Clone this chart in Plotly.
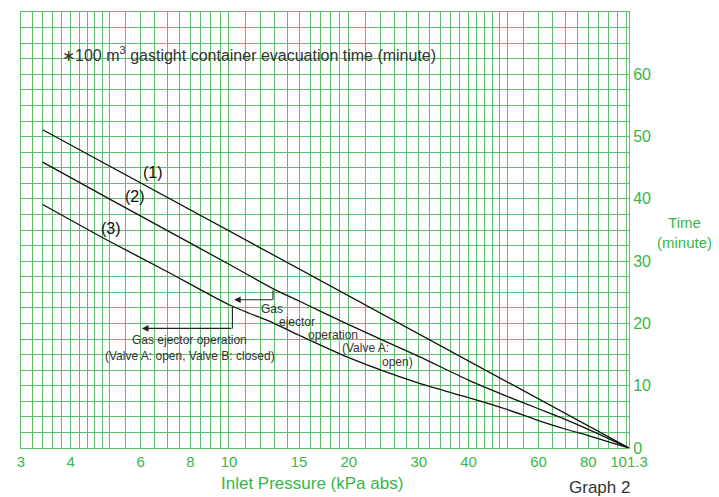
import math
import plotly.graph_objects as go

GREEN = "#39b54a"
GRID = "#5fbf6d"
TEXT = "#333333"

# ---- data ----
pressure = [3.4, 5, 7, 10, 12.9, 15, 20, 30, 40, 50, 60, 70, 80, 90, 101.3]
time_1 = [51.1, 45.3, 40.2, 34.8, 31.0, 28.7, 24.4, 18.3, 14.0, 10.6, 7.9, 5.6, 3.6, 1.8, 0.0]
time_2 = [45.9, 40.0, 34.9, 29.5, 25.6, 23.6, 19.8, 14.7, 10.9, 8.3, 6.3, 4.6, 3.0, 1.5, 0.0]
time_3 = [39.1, 33.2, 28.3, 23.0, 20.1, 18.1, 14.5, 10.4, 8.1, 6.2, 4.4, 3.05, 2.0, 1.0, 0.0]

# grid positions / tick labels
x_grid = ([3 + 0.2 * i for i in range(10)] + [5 + 0.5 * i for i in range(10)]
          + list(range(10, 20)) + list(range(20, 50, 2)) + list(range(50, 101, 5)) + [101.3])
x_labeled = {3: "3", 4: "4", 6: "6", 8: "8", 10: "10", 15: "15", 20: "20",
             30: "30", 40: "40", 60: "60", 80: "80", 101.3: "101.3"}
y_grid = [2.5 * i for i in range(29)]
y_labeled = {0: "0", 10: "10", 20: "20", 30: "30", 40: "40", 50: "50", 60: "60"}

x_text = [x_labeled.get(round(v, 1), "") for v in x_grid]
y_text = [y_labeled.get(v, "") for v in y_grid]

fig = go.Figure()
for ys, shape in ((time_1, "linear"), (time_2, "spline"), (time_3, "spline")):
    fig.add_trace(go.Scatter(x=pressure, y=ys, mode="lines",
                             line=dict(color="#111111", width=1.3, shape=shape, smoothing=0.7),
                             hoverinfo="skip", showlegend=False))

L = math.log10
FONT = "Liberation Sans, Arial, sans-serif"

ann = []
def txt(x, y, s, size, color=TEXT, xanchor="center", xref="x", yref="y", align="center"):
    xv = L(x) if xref == "x" else x
    ann.append(dict(x=xv, y=y, xref=xref, yref=yref, text=s, showarrow=False,
                    xanchor=xanchor, yanchor="middle", align=align,
                    font=dict(size=size, color=color, family=FONT)))

txt(3.77, 63.2, "∗100 m<sup>3</sup> gastight container evacuation time (minute)", 16, xanchor="left")
txt(6.45, 44.2, "(1)", 16, color="#111111")
txt(5.82, 40.3, "(2)", 16, color="#111111")
txt(5.06, 35.3, "(3)", 16, color="#111111")
txt(7.94, 17.3, "Gas ejector operation", 12)
txt(7.97, 14.7, "(Valve A: open, Valve B: closed)", 12)
txt(12.8, 22.3, "Gas", 12)
txt(14.8, 20.2, "ejector", 12)
txt(18.3, 18.1, "operation", 12)
txt(22.0, 16.1, "(Valve A:", 12)
txt(26.5, 13.8, "open)", 12)
txt(0.478, -0.081, "Inlet Pressure (kPa abs)", 17, color=GREEN, xref="paper", yref="paper")
txt(1.1395, 0.4936, "Time<br>(minute)", 15, color=GREEN, xanchor="right", xref="paper", yref="paper")
txt(0.951, -0.0908, "Graph 2", 17, xref="paper", yref="paper")

# bracket arrows
def arrow_line(xh, yh, dx_px, dy_px, head):
    ann.append(dict(x=L(xh), y=yh, xref="x", yref="y", ax=dx_px, ay=dy_px,
                    axref="pixel", ayref="pixel", showarrow=True, text="",
                    arrowhead=head, arrowsize=1.2, arrowwidth=1.1, arrowcolor="#222222",
                    standoff=0))

arrow_line(6.04, 19.2, 91, 0, 2)
arrow_line(10.2, 19.2, 0, -23, 0)
arrow_line(10.3, 23.8, 40, 0, 2)
arrow_line(12.9, 23.8, 0, -11, 0)

# page body has an 8px margin: shrink figure accordingly
fig.update_layout(
    width=711, height=489,
    margin=dict(l=13, r=90, t=4, b=49),
    paper_bgcolor="white", plot_bgcolor="white",
    font=dict(family=FONT, color=GREEN),
    annotations=ann,
    xaxis=dict(type="log", range=[L(3), L(101.3)], tickmode="array",
               tickvals=x_grid, ticktext=x_text, showgrid=True, gridcolor=GRID,
               gridwidth=1, showline=True, linecolor=GRID, linewidth=1, mirror=True,
               ticks="", tickfont=dict(size=15, color=GREEN), zeroline=False),
    yaxis=dict(range=[0, 70], side="right", tickmode="array", tickvals=y_grid,
               ticktext=y_text, showgrid=True, gridcolor=GRID, gridwidth=1,
               showline=True, linecolor=GRID, linewidth=1, mirror=True, ticks="",
               tickfont=dict(size=16, color=GREEN), zeroline=False),
)

fig.write_html("out.html")
